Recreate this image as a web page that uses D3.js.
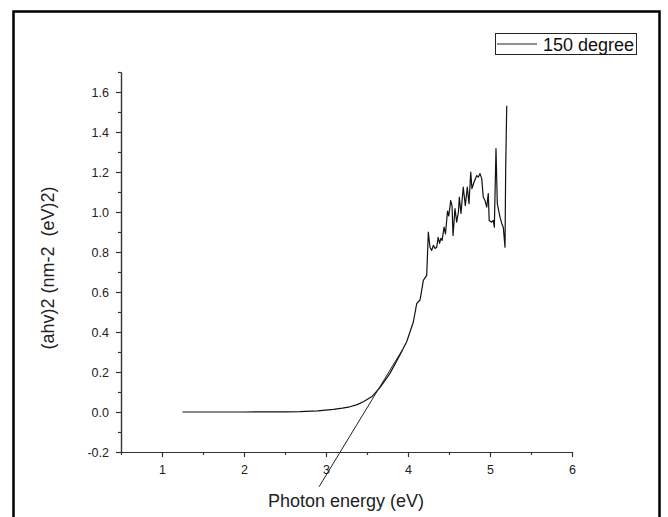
<!DOCTYPE html>
<html>
<head>
<meta charset="utf-8">
<script src="https://cdn.jsdelivr.net/npm/d3@7"></script>
<style>
  body { margin: 0; background: #fff; }
  svg { display: block; font-family: "Liberation Sans", Arial, sans-serif; }
</style>
</head>
<body>
<svg id="chart" width="668" height="517"></svg>
<script>
// photon energy (eV) and (ahv)^2
var energy = [1.25, 1.6, 2.0, 2.3, 2.5, 2.68, 2.9, 3.09, 3.2, 3.29, 3.38, 3.455, 3.557, 3.66, 3.78, 3.9, 3.984, 4.065, 4.106, 4.146,
              4.167, 4.187, 4.228, 4.248, 4.268, 4.289, 4.309, 4.329, 4.35, 4.368, 4.385, 4.4, 4.416, 4.44, 4.457, 4.482, 4.497,
              4.521, 4.537, 4.549, 4.573, 4.594, 4.615, 4.626, 4.646, 4.674, 4.699, 4.723, 4.744, 4.765, 4.780, 4.805, 4.838,
              4.857, 4.878, 4.899, 4.918, 4.939, 4.960, 4.979, 4.990, 5.021, 5.040, 5.053, 5.073, 5.089, 5.122, 5.143, 5.162,
              5.183, 5.191, 5.204];
var absorb = [0.0, 0.0, 0.0, 0.001, 0.001, 0.002, 0.006, 0.013, 0.019, 0.026, 0.037, 0.051, 0.076, 0.123, 0.193, 0.284, 0.351, 0.45, 0.542, 0.56,
              0.608, 0.658, 0.683, 0.899, 0.824, 0.808, 0.833, 0.818, 0.824, 0.873, 0.843, 0.868, 0.858, 0.925, 0.89, 1.005, 0.98,
              1.057, 1.03, 0.883, 1.017, 0.949, 1.0, 1.074, 0.993, 1.124, 1.032, 1.124, 1.042, 1.199, 1.117, 1.149, 1.182,
              1.174, 1.192, 1.167, 1.074, 1.057, 1.024, 1.092, 0.958, 0.949, 0.958, 0.924, 1.317, 1.042, 0.974, 0.943, 0.924,
              0.824, 1.207, 1.531];

// tangent used for the band gap estimate
var tangentX = [2.915, 3.93];
var tangentY = [-0.374, 0.31];

var xTicks = [1, 2, 3, 4, 5, 6];
var xMinor = [0.5, 1.5, 2.5, 3.5, 4.5, 5.5];
var yTicks = [-0.2, 0.0, 0.2, 0.4, 0.6, 0.8, 1.0, 1.2, 1.4, 1.6];
var yMinor = [-0.1, 0.1, 0.3, 0.5, 0.7, 0.9, 1.1, 1.3, 1.5, 1.7];

var seriesName = "150 degree";
var xTitle = "Photon energy (eV)";
var yTitle = "(ahv)2 (nm-2  (eV)2)";

var svg = d3.select("#chart");

// outer frame
svg.append("rect")
    .attr("x", 13.5).attr("y", 11.5)
    .attr("width", 646).attr("height", 520)
    .attr("fill", "none")
    .attr("stroke", "#000")
    .attr("stroke-width", 2.5);

var x = d3.scaleLinear().domain([0.5, 6]).range([121, 572]);
var y = d3.scaleLinear().domain([-0.2, 1.7]).range([452, 72]);

var axisColor = "#333";

svg.append("g")
    .attr("transform", "translate(0,452)")
    .call(d3.axisBottom(x).tickValues(xTicks).tickSize(5).tickPadding(8)
        .tickFormat(d3.format("d")).tickSizeOuter(0));
svg.append("g")
    .attr("transform", "translate(0,452)")
    .call(d3.axisBottom(x).tickValues(xMinor).tickSize(3).tickFormat("").tickSizeOuter(0));

svg.append("g")
    .attr("transform", "translate(121,0)")
    .call(d3.axisLeft(y).tickValues(yTicks).tickSize(5).tickPadding(7)
        .tickFormat(d => d.toFixed(1)).tickSizeOuter(0));
svg.append("g")
    .attr("transform", "translate(121,0)")
    .call(d3.axisLeft(y).tickValues(yMinor).tickSize(3).tickFormat("").tickSizeOuter(0));

svg.selectAll(".domain, .tick line").attr("stroke", axisColor).attr("stroke-width", 1.2);
svg.selectAll(".tick text").attr("font-size", 12.5).attr("fill", "#222")
    .attr("font-family", "'Liberation Sans', Arial, sans-serif");

// data curve
var points = energy.map((e, i) => [e, absorb[i]]);
var line = d3.line().x(d => x(d[0])).y(d => y(d[1]));

svg.append("path")
    .datum(points)
    .attr("d", line)
    .attr("fill", "none")
    .attr("stroke", "#111")
    .attr("stroke-width", 1.2)
    .attr("stroke-linejoin", "round");

svg.append("path")
    .datum(tangentX.map((t, i) => [t, tangentY[i]]))
    .attr("d", line)
    .attr("fill", "none")
    .attr("stroke", "#222")
    .attr("stroke-width", 1);

// axis titles
svg.append("text")
    .attr("x", 346).attr("y", 507)
    .attr("text-anchor", "middle")
    .attr("font-size", 18)
    .attr("fill", "#222")
    .text(xTitle);

svg.append("text")
    .attr("transform", "translate(54,268) rotate(-90)")
    .attr("text-anchor", "middle")
    .attr("font-size", 18)
    .attr("fill", "#222")
    .style("white-space", "pre")
    .text(yTitle);

// legend
var legend = svg.append("g");
legend.append("rect")
    .attr("x", 495.5).attr("y", 33.5)
    .attr("width", 141).attr("height", 21)
    .attr("fill", "#fff")
    .attr("stroke", "#222")
    .attr("stroke-width", 1);
legend.append("line")
    .attr("x1", 497).attr("x2", 537)
    .attr("y1", 44).attr("y2", 44)
    .attr("stroke", "#222")
    .attr("stroke-width", 1.2);
legend.append("text")
    .attr("x", 543).attr("y", 51)
    .attr("font-size", 18)
    .attr("fill", "#111")
    .text(seriesName);
</script>
</body>
</html>
